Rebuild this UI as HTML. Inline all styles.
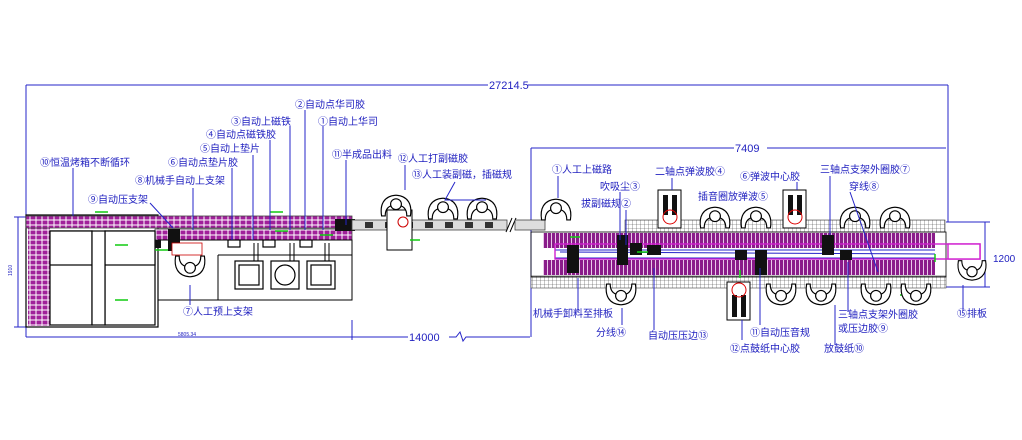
<!DOCTYPE html>
<html><head><meta charset="utf-8"><style>
html,body{margin:0;padding:0;background:#fff;width:1022px;height:440px;overflow:hidden}
svg{display:block}
text{font-family:"Liberation Sans","Noto Sans CJK SC",sans-serif;fill:#2222c0;font-size:10px}
</style></head><body>
<svg width="1022" height="440" viewBox="0 0 1022 440" xmlns="http://www.w3.org/2000/svg">
<defs>
<pattern id="mag" width="6" height="5" patternUnits="userSpaceOnUse">
<rect width="6" height="5" fill="#fff"/><rect x="0.5" y="0.5" width="5" height="4" fill="#a0209a"/>
</pattern>
<pattern id="mag2" width="4" height="16" patternUnits="userSpaceOnUse">
<rect width="4" height="16" fill="#8a1c8a"/><rect x="3" width="1" height="16" fill="#e8c8e8"/>
</pattern>
<pattern id="gry" width="4" height="4" patternUnits="userSpaceOnUse">
<rect width="4" height="4" fill="#fff"/><path d="M0 0H4M0 0V4" stroke="#444" stroke-width="0.6"/>
</pattern>
<symbol id="wk" viewBox="0 0 40 30" width="40" height="30">
<path d="M4 26 C2 14 6 4 20 3 C34 4 38 14 36 26 L32 26 C32 18 28 14 20 14 C12 14 8 18 8 26 Z" fill="#fff" stroke="#000" stroke-width="1.3"/>
<circle cx="20" cy="13" r="6" fill="#fff" stroke="#000" stroke-width="1.3"/>
</symbol>
<symbol id="wkd" viewBox="0 0 40 30" width="40" height="30">
<path d="M4 4 C2 16 6 26 20 27 C34 26 38 16 36 4 L32 4 C32 12 28 16 20 16 C12 16 8 12 8 4 Z" fill="#fff" stroke="#000" stroke-width="1.3"/>
<circle cx="20" cy="17" r="6" fill="#fff" stroke="#000" stroke-width="1.3"/>
</symbol>
</defs>

<g stroke="#2525c8" stroke-width="1" fill="none">
<path d="M26 85H488M528 85H948"/>
<path d="M26 85V337M948 85V222"/>
<path d="M26 337H352M352 320V340M352 337H408M449 337H456L460 332L463 341L466 337H530"/>
<path d="M531 148H734M767 148H946M531 148V337"/>
<path d="M946 222H990M946 287H990M985 222V287"/>
<path d="M18 217V327M14 217H26M14 327H26"/>
</g>
<text x="489" y="89" style="font-size:11px">27214.5</text>
<text x="735" y="152" style="font-size:11px">7409</text>
<text x="409" y="341" style="font-size:11px">14000</text>
<text x="993" y="262">1200</text>
<text x="178" y="336" style="font-size:5px">5805.34</text>
<text x="12" y="276" style="font-size:5px" transform="rotate(-90 12 276)">1910</text>

<rect x="26" y="215" width="132" height="112" fill="#fff" stroke="#000" stroke-width="1.2"/>
<rect x="28" y="218" width="22" height="108" fill="url(#mag)"/>
<rect x="26" y="216" width="326" height="12" fill="url(#mag)" stroke="#444" stroke-width="0.8"/>
<rect x="155" y="229" width="197" height="11" fill="url(#mag)" stroke="#444" stroke-width="0.8"/>
<g fill="#fff" stroke="#000" stroke-width="1.2">
<rect x="50" y="231" width="42" height="94"/><rect x="50" y="231" width="42" height="34"/>
<rect x="105" y="231" width="50" height="94"/><rect x="105" y="231" width="50" height="34"/>
<rect x="92" y="231" width="13" height="94"/>
</g>
<path d="M158 240H352V300H158M218 255H352" fill="none" stroke="#000" stroke-width="1"/>
<path d="M218 255V300" stroke="#000"/>
<g fill="#fff" stroke="#000" stroke-width="1.2">
<rect x="235" y="261" width="28" height="28"/><rect x="239" y="265" width="20" height="20"/>
<rect x="271" y="261" width="28" height="28"/><circle cx="285" cy="275" r="10"/>
<rect x="307" y="261" width="28" height="28"/><rect x="311" y="265" width="20" height="20"/>
<rect x="228" y="240" width="12" height="7"/><rect x="263" y="240" width="12" height="7"/><rect x="300" y="240" width="12" height="7"/>
</g>
<path d="M254 243V261M258 243V261M290 243V261M294 243V261M325 243V261M329 243V261" stroke="#000"/>
<rect x="168" y="229" width="12" height="22" fill="#111"/>
<rect x="172" y="243" width="30" height="12" fill="#fff" stroke="#c00" stroke-width="0.8"/>
<rect x="155" y="240" width="6" height="8" fill="#111"/>
<rect x="335" y="219" width="20" height="12" fill="#111"/>
<rect x="352" y="220" width="155" height="10" fill="#ddd" stroke="#444" stroke-width="0.8"/>
<g fill="#333"><rect x="365" y="222" width="8" height="6"/><rect x="385" y="222" width="8" height="6"/><rect x="405" y="222" width="8" height="6"/><rect x="425" y="222" width="8" height="6"/><rect x="445" y="222" width="8" height="6"/><rect x="465" y="222" width="8" height="6"/><rect x="485" y="222" width="8" height="6"/></g>
<path d="M506 232L512 218M510 232L516 218" stroke="#000"/>
<rect x="515" y="220" width="30" height="10" fill="#ddd" stroke="#444" stroke-width="0.8"/>
<rect x="387" y="210" width="25" height="40" fill="#fff" stroke="#000"/>
<circle cx="403" cy="222" r="5" fill="none" stroke="#c00"/>
<rect x="625" y="220" width="320" height="12" fill="url(#gry)" stroke="#444" stroke-width="0.6"/>
<rect x="543" y="233" width="392" height="15" fill="url(#mag2)"/>
<rect x="543" y="260" width="392" height="15" fill="url(#mag2)"/>
<rect x="531" y="276" width="415" height="12" fill="url(#gry)" stroke="#444" stroke-width="0.6"/>
<rect x="531" y="232" width="415" height="45" fill="none" stroke="#000" stroke-width="0.8"/>
<path d="M555 250H935M555 258H935M560 252L935 254" stroke="#2525c8" stroke-width="1"/>
<rect x="555" y="244" width="425" height="15" fill="none" stroke="#d020d0" stroke-width="1.4"/>
<g fill="#111">
<rect x="567" y="245" width="12" height="28"/><rect x="617" y="235" width="11" height="30"/><rect x="630" y="243" width="12" height="12"/><rect x="647" y="245" width="14" height="10"/>
<rect x="735" y="250" width="12" height="10"/><rect x="755" y="250" width="12" height="25"/><rect x="822" y="235" width="12" height="20"/><rect x="840" y="250" width="12" height="10"/>
</g>
<g fill="#fff" stroke="#000"><rect x="658" y="190" width="23" height="38"/><rect x="783" y="190" width="23" height="38"/><rect x="727" y="282" width="23" height="38"/></g>
<g fill="#111"><rect x="663" y="195" width="5" height="20"/><rect x="672" y="195" width="5" height="20"/><rect x="788" y="195" width="5" height="20"/><rect x="797" y="195" width="5" height="20"/><rect x="732" y="295" width="5" height="22"/><rect x="741" y="295" width="5" height="22"/></g>
<g fill="none" stroke="#d00"><circle cx="670" cy="217" r="7"/><circle cx="795" cy="217" r="7"/><circle cx="739" cy="290" r="7"/></g>
<rect x="948" y="244" width="32" height="15" fill="#fff" stroke="#d020d0" stroke-width="1.4"/>
<g stroke="#1c1" stroke-width="1.5">
<path d="M95 212H108M270 212H283M275 231H288M320 235H333M115 245H128M115 300H128M410 240H420M570 237H580M637 252H648M155 250H168M935 254V262M900 295H910M740 270V278"/>
</g>
<use href="#wk" x="378" y="192" width="36" height="28"/>
<use href="#wk" x="425" y="195" width="36" height="28"/>
<use href="#wk" x="464" y="195" width="36" height="28"/>
<use href="#wkd" x="172" y="250" width="36" height="32"/>
<use href="#wk" x="538" y="196" width="36" height="28"/>
<use href="#wk" x="697" y="204" width="36" height="28"/>
<use href="#wk" x="738" y="204" width="36" height="28"/>
<use href="#wk" x="837" y="204" width="36" height="28"/>
<use href="#wk" x="877" y="204" width="36" height="28"/>
<use href="#wkd" x="603" y="280" width="36" height="28"/>
<use href="#wkd" x="763" y="280" width="36" height="28"/>
<use href="#wkd" x="803" y="280" width="36" height="28"/>
<use href="#wkd" x="858" y="280" width="36" height="28"/>
<use href="#wkd" x="898" y="280" width="36" height="28"/>
<use href="#wkd" x="955" y="255" width="34" height="30"/>
<g stroke="#2525c8" stroke-width="1" fill="none">
<path d="M305 110V230M290 126V230M323 126V230M270 140V230M253 155V240M232 168V240M193 188V230M346 160V225M73 168V216M150 203L173 228M405 165V190M455 182L445 200L486 200M190 285V305M558 176V198M620 192V240M626 210V245M672 178V190M797 182V190M830 176V235M850 192L878 272M578 278V312M622 308V325M654 268V330M760 268V325M742 320V340M835 305V345M848 262V312M963 285V310"/>
</g>
<text x="295" y="108">②自动点华司胶</text>
<text x="231" y="125">③自动上磁铁</text>
<text x="318" y="125">①自动上华司</text>
<text x="206" y="138">④自动点磁铁胶</text>
<text x="200" y="152">⑤自动上垫片</text>
<text x="168" y="166">⑥自动点垫片胶</text>
<text x="332" y="158">⑪半成品出料</text>
<text x="398" y="162">⑫人工打副磁胶</text>
<text x="412" y="178">⑬人工装副磁，插磁规</text>
<text x="40" y="166">⑩恒温烤箱不断循环</text>
<text x="135" y="184">⑧机械手自动上支架</text>
<text x="88" y="203">⑨自动压支架</text>
<text x="183" y="315">⑦人工预上支架</text>
<text x="552" y="173">①人工上磁路</text>
<text x="655" y="175">二轴点弹波胶④</text>
<text x="740" y="180">⑥弹波中心胶</text>
<text x="820" y="173">三轴点支架外圈胶⑦</text>
<text x="600" y="190">吹吸尘③</text>
<text x="849" y="190">穿线⑧</text>
<text x="698" y="200">插音圈放弹波⑤</text>
<text x="581" y="207">拔副磁规②</text>
<text x="533" y="317">机械手卸料至排板</text>
<text x="596" y="336">分线⑭</text>
<text x="648" y="339">自动压压边⑬</text>
<text x="750" y="336">⑪自动压音规</text>
<text x="730" y="352">⑫点鼓纸中心胶</text>
<text x="838" y="318">三轴点支架外圈胶</text>
<text x="838" y="332">或压边胶⑨</text>
<text x="824" y="352">放鼓纸⑩</text>
<text x="957" y="317">⑮排板</text>
</svg>
</body></html>
